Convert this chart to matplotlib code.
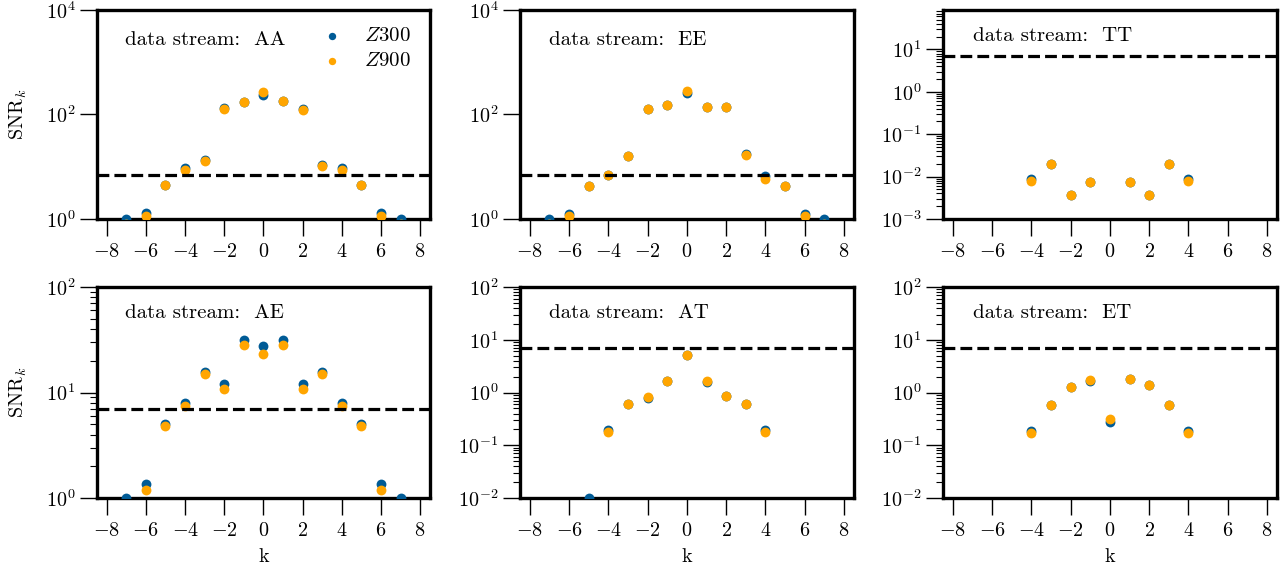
import numpy as np
import matplotlib
matplotlib.use("Agg")
import matplotlib.pyplot as plt
from matplotlib.ticker import LogLocator, NullLocator, FixedLocator

plt.rcParams['font.family'] = 'serif'
plt.rcParams['font.serif'] = ['cmr10']
plt.rcParams['mathtext.fontset'] = 'cm'
plt.rcParams['axes.formatter.use_mathtext'] = True
plt.rcParams['axes.unicode_minus'] = True
plt.rcParams['font.size'] = 14.5

# harmonic index k for each data stream
k_full = [-7, -6, -5, -4, -3, -2, -1, 0, 1, 2, 3, 4, 5, 6, 7]
k_at = [-5, -4, -3, -2, -1, 0, 1, 2, 3, 4]
k_tt = [-4, -3, -2, -1, 1, 2, 3, 4]
k_et = [-4, -3, -2, -1, 0, 1, 2, 3, 4]

# SNR_k values
aa_z300 = [1.0, 1.28, 4.46, 9.3, 13.4, 136, 172, 238, 185, 125, 10.6, 9.6, 4.46, 1.28, 1.0]
aa_z900 = [0.8, 1.16, 4.46, 8.5, 12.6, 128, 172, 271, 185, 123, 10.4, 8.6, 4.46, 1.16, 0.8]
ee_z300 = [1.0, 1.26, 4.36, 7.0, 16.0, 130, 155, 254, 138, 140, 17.5, 6.65, 4.36, 1.26, 1.0]
ee_z900 = [0.8, 1.16, 4.36, 6.85, 15.7, 130, 155, 277, 138, 138, 17.1, 5.9, 4.36, 1.16, 0.8]
tt_z300 = [0.0088, 0.020, 0.0037, 0.0076, 0.0076, 0.0037, 0.020, 0.0088]
tt_z900 = [0.0080, 0.020, 0.0037, 0.0076, 0.0076, 0.0037, 0.020, 0.0080]
ae_z300 = [1.0, 1.36, 5.02, 8.03, 15.7, 12.1, 31.6, 27.5, 31.6, 12.1, 15.7, 8.03, 5.02, 1.36, 1.0]
ae_z900 = [0.8, 1.2, 4.77, 7.46, 15.0, 10.8, 28.1, 23.4, 28.1, 10.8, 15.0, 7.46, 4.77, 1.2, 0.8]
at_z300 = [0.01, 0.193, 0.618, 0.78, 1.69, 5.1, 1.57, 0.865, 0.618, 0.193]
at_z900 = [0.007, 0.179, 0.618, 0.815, 1.69, 5.1, 1.63, 0.865, 0.618, 0.182]
et_z300 = [0.187, 0.583, 1.30, 1.64, 0.277, 1.82, 1.36, 0.575, 0.187]
et_z900 = [0.174, 0.583, 1.30, 1.74, 0.312, 1.82, 1.36, 0.575, 0.174]

threshold = 7

blue = "#005b96"
orange = "#ffa500"

panels = [
    ("AA", k_full, aa_z300, aa_z900, (1, 1e4), [1, 1e2, 1e4], False, [0.0755, 0.6165, 0.2593, 0.366], (0.084, 0.856)),
    ("EE", k_full, ee_z300, ee_z900, (1, 1e4), [1, 1e2, 1e4], False, [0.405, 0.6165, 0.260, 0.366], (0.087, 0.856)),
    ("TT", k_tt, tt_z300, tt_z900, (1e-3, 85), [1e-3, 1e-2, 1e-1, 1, 10], True, [0.7344, 0.6165, 0.260, 0.366], (0.09, 0.875)),
    ("AE", k_full, ae_z300, ae_z900, (1, 1e2), [1, 10, 1e2], True, [0.0755, 0.1278, 0.2593, 0.3695], (0.084, 0.877)),
    ("AT", k_at, at_z300, at_z900, (1e-2, 1e2), [1e-2, 1e-1, 1, 10, 1e2], True, [0.405, 0.1278, 0.260, 0.3695], (0.087, 0.877)),
    ("ET", k_et, et_z300, et_z900, (1e-2, 1e2), [1e-2, 1e-1, 1, 10, 1e2], True, [0.7344, 0.1278, 0.260, 0.3695], (0.09, 0.877)),
]

fig = plt.figure(figsize=(12.84, 5.71), dpi=100)

for i, (name, k, z300, z900, ylim, majors, minors, pos, tpos) in enumerate(panels):
    ax = fig.add_axes(pos)
    ax.scatter(k, z300, s=50, color=blue, label=r"$Z300$", zorder=3, linewidths=0)
    ax.scatter(k, z900, s=50, color=orange, label=r"$Z900$", zorder=4, linewidths=0)
    ax.axhline(threshold, color="black", ls="--", lw=2.3, zorder=5)
    ax.set_yscale("log")
    ax.set_ylim(ylim)
    ax.set_xlim(-8.5, 8.5)
    ax.set_xticks(np.arange(-8, 9, 2))
    ax.yaxis.set_major_locator(FixedLocator(majors))
    if minors:
        ax.yaxis.set_minor_locator(LogLocator(base=10, subs=np.arange(2, 10)))
    else:
        ax.yaxis.set_minor_locator(NullLocator())
    for s in ax.spines.values():
        s.set_linewidth(2.4)
    ax.tick_params(which="major", direction="out", length=12, width=1.0, labelsize=14.5)
    ax.tick_params(axis="x", which="major", pad=5)
    ax.tick_params(which="minor", direction="out", length=5, width=0.8)
    ax.text(tpos[0], tpos[1], "data stream:  " + name, transform=ax.transAxes,
            ha="left", va="center", fontsize=15)
    if i % 3 == 0:
        ax.set_ylabel(r"SNR$_k$", fontsize=14.5, labelpad=12)
    if i >= 3:
        ax.set_xlabel("k", fontsize=14.5, labelpad=6)
    if i == 0:
        ax.legend(loc="upper right", frameon=False, markerscale=0.75,
                  handletextpad=0.55, labelspacing=0.3, fontsize=15,
                  bbox_to_anchor=(1.0, 1.01))

fig.savefig("out.png", dpi=100)
